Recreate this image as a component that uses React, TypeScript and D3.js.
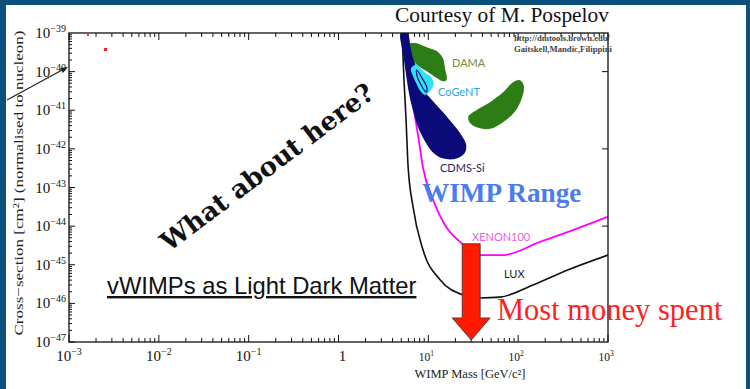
import * as d3 from "d3";

const W = 750;
const H = 389;
const PLOT = { left: 69, right: 608, top: 33, bottom: 342 };

// axes (GeV, cm^2)
const massDomain: [number, number] = [1e-3, 1e3];
const sigmaDomain: [number, number] = [1e-47, 1e-39];
const massLabelExps = [-3, -2, -1, 0, 1, 2, 3];
const sigmaLabelExps = [-39, -40, -41, -42, -43, -44, -45, -46, -47];
const rightTickSigmas = [1e-40, 1e-42, 1e-44];

// LUX limit
const luxMass = [5.09, 5.36, 5.65, 5.94, 6.75, 8.73, 13.5, 24.3, 37.6, 62.8, 146, 350, 1000];
const luxSigma = [1e-39, 6.0e-41, 5.6e-42, 3.8e-43, 3.2e-44, 2.4e-45, 4.1e-46, 1.66e-46, 1.38e-46, 1.45e-46, 3.0e-46, 7.2e-46, 1.78e-45];

// XENON100 limit
const xenonMass = [5.1, 5.94, 6.75, 7.67, 8.73, 11.3, 15.3, 22.5, 29.1, 35.7, 67.8, 175, 408, 1000];
const xenonSigma = [1e-39, 8.1e-41, 1.37e-41, 2.3e-42, 3.2e-43, 4.8e-44, 1.07e-44, 3.9e-45, 2.4e-45, 1.78e-45, 1.78e-45, 3.9e-45, 7.9e-45, 1.74e-44];

// CDMS-Si region
const cdmsMass = [4.93, 5.83, 6.37, 6.93, 8.08, 9.18, 10.9, 16.0, 22.5, 26.3, 25.4, 20.7, 14.7, 11.4, 9.18, 7.73, 6.81, 6.14, 5.65, 5.26];
const cdmsSigma = [1e-39, 1e-39, 4.1e-40, 1.86e-40, 8.3e-41, 3.1e-41, 1.86e-41, 6.9e-42, 2.57e-42, 1.29e-42, 7.8e-43, 5.6e-43, 5.6e-43, 7.8e-43, 1.58e-42, 3.5e-42, 9.3e-42, 2.5e-41, 8.3e-41, 2.75e-40];
const cdmsInnerMass = [7.43, 8.51, 9.66, 9.44, 8.3, 7.5];
const cdmsInnerSigma = [1.12e-40, 6.8e-41, 3.8e-41, 2.95e-41, 4.5e-41, 7.7e-41];

// CoGeNT region
const cogentMass = [6.4, 7.43, 8.9, 10.8, 11.4, 10.5, 9.18, 8.1, 7.4, 6.8];
const cogentSigma = [1.2e-40, 1.5e-40, 1.0e-40, 7.2e-41, 4.6e-41, 3.2e-41, 2.5e-41, 3.2e-41, 4.8e-41, 7.4e-41];

// DAMA regions
const damaLowMass = [5.74, 7.11, 9.59, 12.4, 14.5, 15.3, 16.0, 14.7, 12.4, 9.59, 7.43, 6.25, 5.74];
const damaLowSigma = [5.0e-40, 5.5e-40, 4.3e-40, 3.4e-40, 2.24e-40, 1.23e-40, 6.2e-41, 5.6e-41, 6.8e-41, 1.02e-40, 1.51e-40, 2.5e-40, 3.7e-40];
const damaHighMass = [27.9, 34.6, 48.6, 68.4, 88.3, 105, 116, 110, 92.3, 68.4, 48.6, 36.0, 29.1];
const damaHighSigma = [6.9e-42, 1.02e-41, 1.62e-41, 2.95e-41, 5.4e-41, 6.0e-41, 4.2e-41, 2.09e-41, 9.3e-42, 5.0e-42, 3.3e-42, 3.5e-42, 4.7e-42];

// "most money spent" arrow
const arrowMass = 30;
const arrowTopSigma = 3.5e-45;
const arrowHeadSigma = 4.2e-47;
const arrowTipSigma = 1.12e-47;

const NAVY = "#0b4f7c";
const SERIF = "'Liberation Serif', 'Times New Roman', serif";
const SANS = "Lato, 'Open Sans', sans-serif";

const zip = (a: number[], b: number[]) => a.map((v, i) => [v, b[i]] as [number, number]);
const isDecade = (v: number) => Math.abs(Math.log10(v) - Math.round(Math.log10(v))) < 1e-6;

export default function App() {
  const x = d3.scaleLog().domain(massDomain).range([PLOT.left, PLOT.right]);
  const y = d3.scaleLog().domain(sigmaDomain).range([PLOT.bottom, PLOT.top]);

  const curve = d3
    .line<[number, number]>()
    .x((d) => x(d[0]))
    .y((d) => y(d[1]))
    .curve(d3.curveMonotoneX);
  const blob = d3
    .line<[number, number]>()
    .x((d) => x(d[0]))
    .y((d) => y(d[1]))
    .curve(d3.curveCatmullRomClosed.alpha(0.5));

  const xTicks = x.ticks();
  const yTicks = y.ticks();

  const ax = x(arrowMass);
  const aTop = y(arrowTopSigma);
  const aHead = y(arrowHeadSigma);
  const aTip = y(arrowTipSigma);
  const arrowPts = [
    [ax - 9, aTop], [ax + 9, aTop], [ax + 9, aHead], [ax + 19, aHead],
    [ax, aTip], [ax - 19, aHead], [ax - 9, aHead],
  ].map((p) => p.join(",")).join(" ");

  return (
    <svg width={W} height={H} style={{ position: "absolute", left: 0, top: 0 }}>
      <defs>
        <clipPath id="plotClip">
          <rect x={PLOT.left} y={PLOT.top} width={PLOT.right - PLOT.left} height={PLOT.bottom - PLOT.top} />
        </clipPath>
      </defs>
      <rect width={W} height={H} fill={NAVY} />
      <rect x={6} y={5} width={740} height={H - 5} fill="#fff" />

      {/* exclusion curves and signal regions */}
      <g clipPath="url(#plotClip)">
        <path d={blob(zip(damaLowMass, damaLowSigma)) ?? ""} fill="#2d7d17" />
        <path d={blob(zip(damaHighMass, damaHighSigma)) ?? ""} fill="#2d7d17" />
        <path d={curve(zip(luxMass, luxSigma)) ?? ""} fill="none" stroke="#111" strokeWidth={1.6} />
        <path d={curve(zip(xenonMass, xenonSigma)) ?? ""} fill="none" stroke="#ff00ff" strokeWidth={1.8} />
        <path d={blob(zip(cdmsMass, cdmsSigma)) ?? ""} fill="#0a0a78" />
        <path d={blob(zip(cogentMass, cogentSigma)) ?? ""} fill="#33e0f5" />
        <path d={blob(zip(cdmsInnerMass, cdmsInnerSigma)) ?? ""} fill="none" stroke="#0a0a78" strokeWidth={1.2} />
      </g>

      {/* frame */}
      <rect x={PLOT.left} y={PLOT.top} width={PLOT.right - PLOT.left} height={PLOT.bottom - PLOT.top} fill="none" stroke="#111" strokeWidth={1.3} />

      {/* bottom / top ticks */}
      {xTicks.map((t, i) => {
        const len = isDecade(t) ? 7 : 4;
        return (
          <g key={"xt" + i} stroke="#111" strokeWidth={1}>
            <line x1={x(t)} x2={x(t)} y1={PLOT.bottom} y2={PLOT.bottom - len} />
            <line x1={x(t)} x2={x(t)} y1={PLOT.top} y2={PLOT.top + len} />
          </g>
        );
      })}
      {/* left ticks */}
      {yTicks.map((t, i) => {
        const len = isDecade(t) ? 6 : 3;
        return <line key={"yt" + i} x1={PLOT.left} x2={PLOT.left + len} y1={y(t)} y2={y(t)} stroke="#111" strokeWidth={1} />;
      })}
      {rightTickSigmas.map((t, i) => (
        <line key={"rt" + i} x1={PLOT.right} x2={PLOT.right - 6} y1={y(t)} y2={y(t)} stroke="#111" strokeWidth={1} />
      ))}

      {/* y tick labels */}
      {sigmaLabelExps.map((e) => (
        <text key={"yl" + e} x={PLOT.left - 3} y={y(Math.pow(10, e)) + 5} textAnchor="end" fontFamily={SERIF} fontSize={15} fill="#111">
          10<tspan dy={-6} fontSize={10}>{"\u2212" + Math.abs(e)}</tspan>
        </text>
      ))}

      {/* x tick labels */}
      {massLabelExps.map((e) => {
        const px = x(Math.pow(10, e));
        if (e === 0) {
          return <text key="xl0" x={px + 4} y={361} textAnchor="middle" fontFamily={SERIF} fontSize={15} fill="#111">1</text>;
        }
        const small = e > 0;
        return (
          <text key={"xl" + e} x={small ? px - 2 : px} y={361} textAnchor="middle" fontFamily={SERIF} fontSize={small ? 11.5 : 15} fill="#111">
            10<tspan dy={small ? -5 : -6} fontSize={small ? 7.5 : 10}>{e < 0 ? "\u2212" + Math.abs(e) : String(e)}</tspan>
          </text>
        );
      })}

      <text x={470} y={378} textAnchor="middle" fontFamily={SERIF} fontSize={12.5} fill="#222">WIMP Mass [GeV/c²]</text>
      <text transform="translate(23,183) rotate(-90)" textAnchor="middle" fontFamily={SERIF} fontSize={13.5} fill="#222" textLength={305} lengthAdjust="spacingAndGlyphs">
        Cross−section [cm²] (normalised to nucleon)
      </text>

      {/* pointer arrow on the y axis */}
      <line x1={7} y1={100} x2={64} y2={69} stroke="#222" strokeWidth={1.2} />
      <polygon points="68,67 60,68 63,73" fill="#222" />
      <rect x={87} y={34} width={2} height={2} fill="#f33" />
      <rect x={104} y={48} width={3} height={3} fill="#f22" />

      {/* region labels */}
      <text x={452} y={67} fontFamily={SANS} fontSize={11} fill="#7b8a3a">DAMA</text>
      <text x={438} y={96} fontFamily={SANS} fontSize={11} fill="#2ba8e6">CoGeNT</text>
      <text x={440} y={172} fontFamily={SANS} fontSize={11} fill="#1b1f6b">CDMS-Si</text>
      <text x={472} y={241} fontFamily={SANS} fontSize={11} fill="#e060e0">XENON100</text>
      <text x={504} y={278} fontFamily={SANS} fontSize={11} fill="#222">LUX</text>
      <text x={514} y={41} fontFamily={SERIF} fontSize={8} fontWeight="bold" fill="#444" textLength={96} lengthAdjust="spacingAndGlyphs">http://dmtools.brown.edu/</text>
      <text x={514} y={52} fontFamily={SERIF} fontSize={8} fontWeight="bold" fill="#444" textLength={98} lengthAdjust="spacingAndGlyphs">Gaitskell,Mandic,Filippini</text>

      {/* annotations */}
      <text x={395} y={22} fontFamily={SERIF} fontSize={21.4} fill="#111">Courtesy of M. Pospelov</text>
      <text x={422} y={202} fontFamily={SERIF} fontSize={27.2} fontWeight="bold" fill="#4a7cf0">WIMP Range</text>
      <text transform="translate(267,167) rotate(-37)" textAnchor="middle" dy="0.35em" fontFamily="'DejaVu Serif', serif" fontWeight="bold" fontSize={26} fill="#111">What about here?</text>
      <text x={107} y={294} fontFamily="'Liberation Sans', Arial, sans-serif" fontSize={23.8} fill="#111" textDecoration="underline">vWIMPs as Light Dark Matter</text>
      <polygon points={arrowPts} fill="#ff1a00" stroke="#333" strokeWidth={0.8} />
      <text x={497} y={320} fontFamily={SERIF} fontSize={30.5} fill="#ff1f1f">Most money spent</text>
    </svg>
  );
}
